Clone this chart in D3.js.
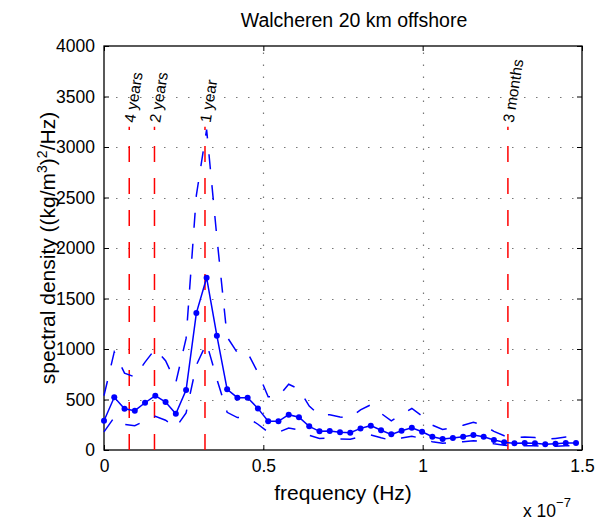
<!DOCTYPE html>
<html><head><meta charset="utf-8">
<script src="https://cdn.jsdelivr.net/npm/d3@7"></script>
<style>
html,body{margin:0;padding:0;background:#fff;}
text{font-family:"Liberation Sans",Arial,Helvetica,sans-serif;}
</style></head>
<body><svg id="c" width="606" height="521"></svg>
<script>
// frequency in units of 1e-7 Hz
const freq = [0, 0.0322, 0.0644, 0.0966, 0.1288, 0.161, 0.1932, 0.2254, 0.2576, 0.2898, 0.322, 0.3542, 0.3864, 0.4186, 0.4508, 0.483, 0.5152, 0.5474, 0.5796, 0.6118, 0.644, 0.6762, 0.7084, 0.7406, 0.7728, 0.805, 0.8372, 0.8694, 0.9016, 0.9338, 0.966, 0.9982, 1.0304, 1.0626, 1.0948, 1.127, 1.1592, 1.1914, 1.2236, 1.2558, 1.288, 1.3202, 1.3524, 1.3846, 1.4168, 1.449, 1.4812];
const density = [290, 522, 409, 389, 468, 538, 475, 359, 594, 1356, 1706, 1132, 601, 518, 518, 412, 284, 284, 350, 324, 234, 185, 188, 176, 171, 214, 241, 195, 155, 191, 221, 181, 132, 109, 119, 132, 148, 132, 99, 76, 66, 69, 66, 56, 62, 69, 69];
const upper = [539, 971, 761, 724, 870, 1001, 884, 668, 1105, 2522, 3173, 2106, 1118, 963, 963, 766, 528, 528, 651, 603, 435, 344, 350, 327, 318, 398, 448, 363, 288, 355, 411, 337, 246, 203, 221, 246, 275, 246, 184, 141, 123, 128, 123, 104, 115, 128, 128];
const lower = [180, 324, 254, 241, 290, 334, 295, 223, 368, 841, 1058, 702, 373, 321, 321, 255, 176, 176, 217, 201, 145, 115, 117, 109, 106, 133, 149, 121, 96, 118, 137, 112, 82, 68, 74, 82, 92, 82, 61, 47, 41, 43, 41, 35, 38, 43, 43];
const periodLabels = ["4 years", "2 years", "1 year", "3 months"];
const periodFreq = [0.0792, 0.1584, 0.3169, 1.2675];
const periodLineTop = 3200;
const xTicks = [0, 0.5, 1, 1.5];
const xTickLabels = ["0", "0.5", "1", "1.5"];
const yTicks = [0, 500, 1000, 1500, 2000, 2500, 3000, 3500, 4000];
const title = "Walcheren 20 km offshore";

const L = 104, R = 582, T = 46, B = 450;
const svg = d3.select("#c");
const x = d3.scaleLinear().domain([0, 1.5]).range([L, R]);
const y = d3.scaleLinear().domain([0, 4000]).range([B, T]);

// grid
const g = svg.append("g");
g.selectAll(".gx").data(xTicks.slice(1, -1)).enter().append("line")
  .attr("x1", d => Math.round(x(d)) + 0.5).attr("x2", d => Math.round(x(d)) + 0.5)
  .attr("y1", B).attr("y2", T)
  .attr("stroke", "#777").attr("stroke-width", 1.2).attr("stroke-dasharray", "1.5,10.5");
g.selectAll(".gy").data(yTicks.slice(1, -1)).enter().append("line")
  .attr("y1", d => Math.round(y(d)) + 0.5).attr("y2", d => Math.round(y(d)) + 0.5)
  .attr("x1", L).attr("x2", R)
  .attr("stroke", "#777").attr("stroke-width", 1.2).attr("stroke-dasharray", "1.5,10.5");

// axes
const ax = svg.append("g").attr("transform", `translate(0,${B})`)
  .call(d3.axisBottom(x).tickValues(xTicks).tickFormat((d, i) => xTickLabels[i]).tickSize(-5).tickPadding(10));
const axT = svg.append("g").attr("transform", `translate(0,${T})`)
  .call(d3.axisTop(x).tickValues(xTicks).tickFormat("").tickSize(-5));
const ay = svg.append("g").attr("transform", `translate(${L},0)`)
  .call(d3.axisLeft(y).tickValues(yTicks).tickFormat(d3.format("d")).tickSize(-5).tickPadding(9));
const ayR = svg.append("g").attr("transform", `translate(${R},0)`)
  .call(d3.axisRight(y).tickValues(yTicks).tickFormat("").tickSize(-5));
[ax, axT, ay, ayR].forEach(a => {
  a.select(".domain").remove();
  a.selectAll("line").attr("stroke", "#000");
  a.selectAll("text").attr("font-size", 17.5).attr("fill", "#000").attr("font-family", "Liberation Sans, Arial, sans-serif");
});
svg.append("rect").attr("x", L).attr("y", T).attr("width", R - L).attr("height", B - T)
  .attr("fill", "none").attr("stroke", "#000").attr("stroke-width", 1.3);

// period lines
svg.selectAll(".pl").data(periodFreq).enter().append("line")
  .attr("x1", d => x(d)).attr("x2", d => x(d))
  .attr("y1", y(0)).attr("y2", y(periodLineTop))
  .attr("stroke", "#ff0000").attr("stroke-width", 1.5).attr("stroke-dasharray", "16,16");
svg.selectAll(".plt").data(periodFreq).enter().append("text")
  .attr("transform", d => `translate(${x(d)},${y(periodLineTop) - 4.5}) rotate(-81)`)
  .attr("dy", "0.36em").attr("font-size", 15.5).attr("fill", "#000")
  .text((d, i) => periodLabels[i]);

// confidence bounds
const line = d3.line().x((d, i) => x(freq[i])).y(d => y(d));
[upper, lower].forEach(arr => {
  svg.append("path").attr("d", line(arr)).attr("fill", "none")
    .attr("stroke", "#0000ff").attr("stroke-width", 1.5).attr("stroke-dasharray", "15,16");
});
svg.append("path").attr("d", line(density)).attr("fill", "none")
  .attr("stroke", "#0000ff").attr("stroke-width", 1.5);
svg.selectAll(".pt").data(density).enter().append("circle")
  .attr("cx", (d, i) => x(freq[i])).attr("cy", d => y(d)).attr("r", 3).attr("fill", "#0000ff");

// titles
svg.append("text").attr("x", 354).attr("y", 27).attr("text-anchor", "middle")
  .attr("font-size", 19.5).text(title);
svg.append("text").attr("x", (L + R) / 2).attr("y", 500).attr("text-anchor", "middle")
  .attr("font-size", 21).text("frequency (Hz)");
const yl = svg.append("text").attr("transform", `translate(55,${(T + B) / 2}) rotate(-90)`)
  .attr("text-anchor", "middle").attr("font-size", 21);
yl.append("tspan").text("spectral density ((kg/m");
yl.append("tspan").attr("dy", -8).attr("font-size", 14).text("3");
yl.append("tspan").attr("dy", 8).text(")");
yl.append("tspan").attr("dy", -8).attr("font-size", 14).text("2");
yl.append("tspan").attr("dy", 8).text("/Hz)");
const ex = svg.append("text").attr("x", 523).attr("y", 517).attr("font-size", 17.5);
ex.append("tspan").text("x 10");
ex.append("tspan").attr("dy", -10).attr("font-size", 13).text("\u22127");
</script></body></html>
